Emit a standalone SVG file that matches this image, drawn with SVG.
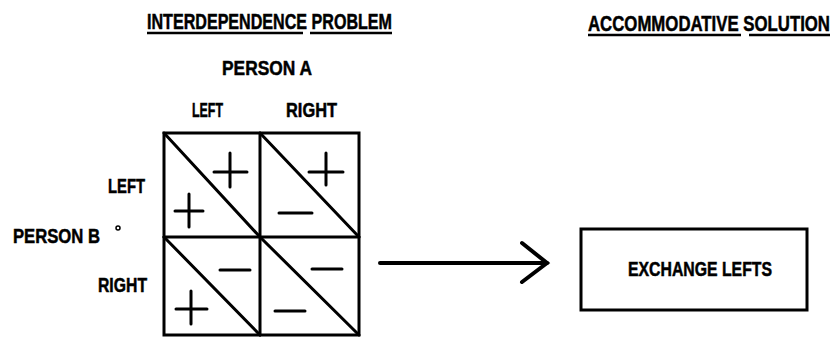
<svg xmlns="http://www.w3.org/2000/svg" width="838" height="337" viewBox="0 0 838 337">
<style>
text{font-family:"Liberation Sans Narrow","Liberation Sans","DejaVu Sans Condensed",sans-serif;font-weight:bold;fill:#000;stroke:#000;stroke-width:0.5}
.ln{stroke:#000;stroke-width:3;fill:none;stroke-linecap:round}
.ul{stroke:#000;stroke-width:2.5}
</style>
<rect width="838" height="337" fill="#fff"/>
<g id="title-problem">
<text x="147" y="29" font-size="22" textLength="245" lengthAdjust="spacingAndGlyphs">INTERDEPENDENCE PROBLEM</text>
<line class="ul" x1="147" y1="33" x2="303" y2="33"/>
<line class="ul" x1="310" y1="33" x2="392" y2="33"/>
</g>
<g id="title-solution">
<text transform="translate(588,31) scale(0.7,1)" x="0" y="0" font-size="22" textLength="345.7" lengthAdjust="spacingAndGlyphs">ACCOMMODATIVE SOLUTION</text>
<line class="ul" x1="588" y1="35" x2="741" y2="35"/>
<line class="ul" x1="749" y1="35" x2="830" y2="35"/>
</g>
<g id="person-a">
<text x="222" y="75" font-size="21" textLength="90" lengthAdjust="spacingAndGlyphs">PERSON A</text>
<text x="192" y="117" font-size="20" textLength="31" lengthAdjust="spacingAndGlyphs">LEFT</text>
<text x="286" y="117" font-size="20" textLength="51" lengthAdjust="spacingAndGlyphs">RIGHT</text>
</g>
<g id="person-b">
<text x="108" y="193" font-size="20" textLength="37" lengthAdjust="spacingAndGlyphs">LEFT</text>
<text x="13" y="243" font-size="20" textLength="87" lengthAdjust="spacingAndGlyphs">PERSON B</text>
<circle cx="118" cy="228" r="2" fill="none" stroke="#000" stroke-width="1.5"/>
<text x="98" y="292" font-size="20" textLength="49" lengthAdjust="spacingAndGlyphs">RIGHT</text>
</g>
<g id="matrix">
<rect class="ln" x="164" y="133" width="195" height="202" stroke-linecap="butt"/>
<line class="ln" x1="260" y1="133" x2="260" y2="335"/>
<line class="ln" x1="164" y1="237" x2="359" y2="237"/>
<line class="ln" x1="164" y1="133" x2="260" y2="237"/>
<line class="ln" x1="260" y1="133" x2="359" y2="237"/>
<line class="ln" x1="164" y1="237" x2="260" y2="335"/>
<line class="ln" x1="260" y1="237" x2="359" y2="335"/>
<path class="ln" d="M214 172H247M230 153V187"/>
<path class="ln" d="M175 211H203M189 194V227"/>
<path class="ln" d="M309 172H343M326 153V185"/>
<path class="ln" d="M279 213H312"/>
<path class="ln" d="M220 270H250"/>
<path class="ln" d="M176 309H207M191 291V324"/>
<path class="ln" d="M312 269H342"/>
<path class="ln" d="M275 311H305"/>
</g>
<g id="connectors">
<line x1="380" y1="263" x2="547" y2="263" stroke="#000" stroke-width="4" stroke-linecap="round"/>
<polyline points="522,243 547,263 522,282" fill="none" stroke="#000" stroke-width="4" stroke-linecap="round" stroke-linejoin="miter"/>
</g>
<g id="exchange-lefts">
<rect x="581" y="229" width="226" height="81" fill="none" stroke="#000" stroke-width="3"/>
<text x="628" y="276" font-size="20" textLength="144" lengthAdjust="spacingAndGlyphs">EXCHANGE LEFTS</text>
</g>
</svg>
